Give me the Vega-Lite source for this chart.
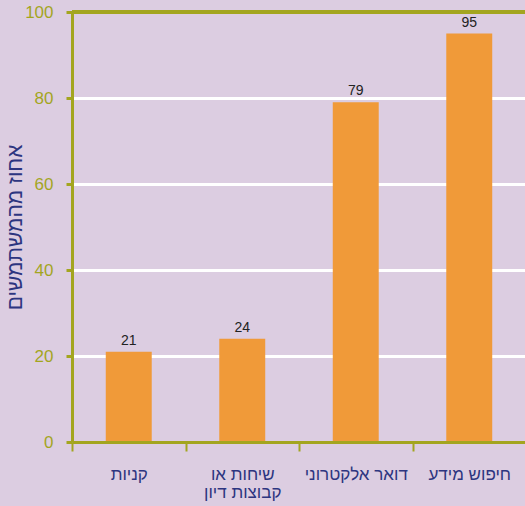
{
  "$schema": "https://vega.github.io/schema/vega-lite/v6.json",
  "autosize": {"type": "none"},
  "width": 454,
  "height": 430,
  "padding": {"left": 72, "top": 12, "right": 0, "bottom": 64},
  "background": "#dccde1",
  "config": {
    "view": {"stroke": null},
    "font": "Arial, Liberation Sans, sans-serif"
  },
  "data": {
    "values": [
      {"category": "קניות", "value": 21},
      {"category": "שיחות או קבוצות דיון", "value": 24},
      {"category": "דואר אלקטרוני", "value": 79},
      {"category": "חיפוש מידע", "value": 95}
    ]
  },
  "layer": [
    {
      "data": {"values": [{"top": 100}]},
      "mark": {"type": "rule", "color": "#a3a51f", "strokeWidth": 4},
      "encoding": {"y": {"field": "top", "type": "quantitative", "scale": {"domain": [0, 100]},
        "axis": {
        "title": "אחוז מהמשתמשים",
        "titleColor": "#2d3580",
        "titleFontSize": 21,
        "titleFontWeight": "normal",
        "titleX": -47,
        "values": [0, 20, 40, 60, 80, 100],
        "labelColor": "#a3a51f",
        "labelFontSize": 17,
        "labelPadding": 13,
        "domainColor": "#a3a51f",
        "domainWidth": 3,
        "tickColor": "#a3a51f",
        "tickWidth": 3,
        "tickSize": 6,
        "grid": true,
        "gridColor": "#ffffff",
        "gridWidth": 3,
        "zindex": 0
      }}}
    },
    {
      "mark": {"type": "bar", "color": "#f09a39", "width": {"band": 0.405}},
      "encoding": {
        "x": {
          "field": "category",
          "type": "nominal",
          "sort": ["קניות", "שיחות או קבוצות דיון", "דואר אלקטרוני", "חיפוש מידע"],
          "scale": {"paddingInner": 0, "paddingOuter": 0},
          "axis": {
            "title": null,
            "labelAngle": 0,
            "labelColor": "#2d3580",
            "labelFontSize": 17,
            "labelPadding": 15,
            "labelExpr": "datum.value == 'שיחות או קבוצות דיון' ? ['שיחות או', 'קבוצות דיון'] : datum.value",
            "labelLineHeight": 18,
            "domainColor": "#a3a51f",
            "domainWidth": 3,
            "tickColor": "#a3a51f",
            "tickWidth": 2,
            "tickSize": 9,
            "tickBand": "extent",
            "grid": false,
            "zindex": 1
          }
        },
        "y": {"field": "value", "type": "quantitative"}
      }
    },
    {
      "mark": {"type": "text", "dy": -4, "color": "#222222", "fontSize": 14, "fontWeight": "normal", "baseline": "bottom"},
      "encoding": {
        "x": {"field": "category", "type": "nominal", "sort": ["קניות", "שיחות או קבוצות דיון", "דואר אלקטרוני", "חיפוש מידע"]},
        "y": {"field": "value", "type": "quantitative"},
        "text": {"field": "value", "type": "quantitative"}
      }
    }
  ]
}
